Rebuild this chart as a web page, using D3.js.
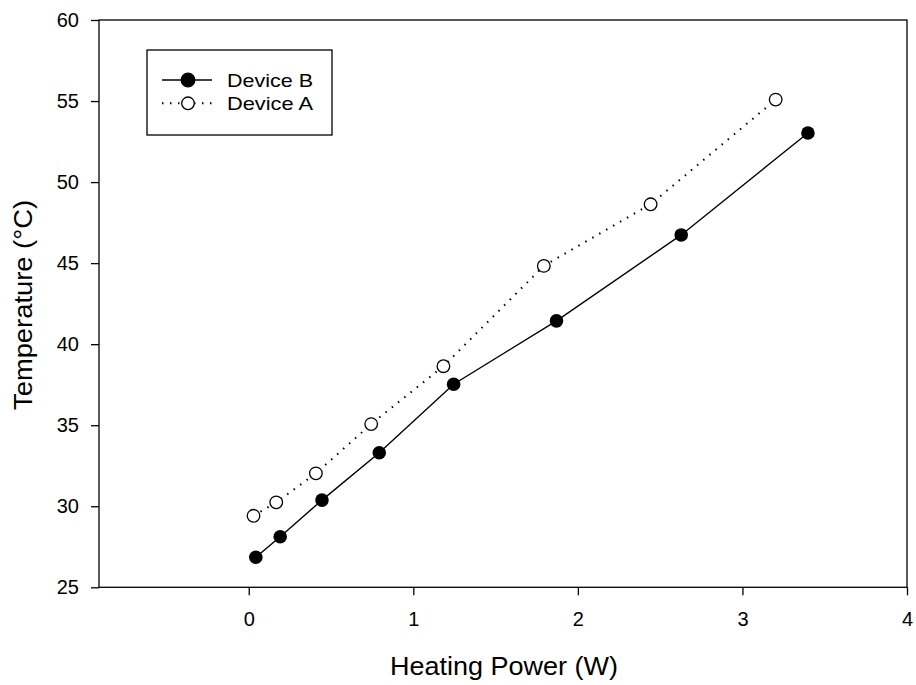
<!DOCTYPE html>
<html>
<head>
<meta charset="utf-8">
<script src="https://cdn.jsdelivr.net/npm/d3@7"></script>
<style>
  body { margin: 0; background: #fff; }
  text { font-family: "Liberation Sans", Arial, sans-serif; fill: #000; }
</style>
</head>
<body>
<svg id="chart"></svg>
<script>
// data
var powerB = [0.043, 0.191, 0.445, 0.793, 1.245, 1.870, 2.628, 3.398];
var tempB  = [26.85, 28.12, 30.38, 33.30, 37.53, 41.44, 46.74, 53.03];
var powerA = [0.029, 0.167, 0.408, 0.744, 1.183, 1.793, 2.442, 3.202];
var tempA  = [29.41, 30.24, 32.03, 35.07, 38.64, 44.83, 48.63, 55.09];
var seriesNames = ["Device B", "Device A"];
var xTicks = [0, 1, 2, 3, 4];
var yTicks = [25, 30, 35, 40, 45, 50, 55, 60];

var screen = { width: 916, height: 685 };
var margins = { top: 20, left: 99, right: 9, bottom: 98 };
var width = screen.width - margins.left - margins.right;
var height = screen.height - margins.top - margins.bottom + 0.3;

var svg = d3.select("#chart")
  .attr("width", screen.width)
  .attr("height", screen.height);

var xScale = d3.scaleLinear().domain([-0.91, 4]).range([0, width]);
var yScale = d3.scaleLinear().domain([25, 60]).range([height, 0]);

var plot = svg.append("g")
  .attr("transform", "translate(" + margins.left + "," + margins.top + ")");

// frame
plot.append("rect")
  .attr("width", width).attr("height", height)
  .attr("fill", "none").attr("stroke", "#000").attr("stroke-width", 1.3);

var xAxis = d3.axisBottom(xScale).tickValues(xTicks).tickSize(8).tickPadding(17).tickFormat(d3.format("d"));
var yAxis = d3.axisLeft(yScale).tickValues(yTicks).tickSize(8).tickPadding(12);

var gx = plot.append("g").attr("transform", "translate(0," + height + ")").call(xAxis);
var gy = plot.append("g").call(yAxis);
[gx, gy].forEach(function(g) {
  g.select(".domain").remove();
  g.selectAll("line").attr("stroke", "#000").attr("stroke-width", 1.3);
  g.selectAll("text").style("font-size", "20px").style("font-family", "Liberation Sans, Arial, sans-serif");
});

var dataB = powerB.map(function(p, i) { return { x: p, y: tempB[i] }; });
var dataA = powerA.map(function(p, i) { return { x: p, y: tempA[i] }; });

var line = d3.line()
  .x(function(d) { return xScale(d.x); })
  .y(function(d) { return yScale(d.y); });

plot.append("path").datum(dataA)
  .attr("d", line).attr("fill", "none").attr("stroke", "#000")
  .attr("stroke-width", 2).attr("stroke-dasharray", "1.5 6.5");

plot.append("path").datum(dataB)
  .attr("d", line).attr("fill", "none").attr("stroke", "#000").attr("stroke-width", 1.4);

plot.selectAll("circle.a").data(dataA).enter().append("circle")
  .attr("class", "a")
  .attr("cx", function(d) { return xScale(d.x); })
  .attr("cy", function(d) { return yScale(d.y); })
  .attr("r", 6.3).attr("fill", "#fff").attr("stroke", "#000").attr("stroke-width", 1.3);

plot.selectAll("circle.b").data(dataB).enter().append("circle")
  .attr("class", "b")
  .attr("cx", function(d) { return xScale(d.x); })
  .attr("cy", function(d) { return yScale(d.y); })
  .attr("r", 6.8).attr("fill", "#000");

// legend
var legend = svg.append("g").attr("transform", "translate(147,50)");
legend.append("rect").attr("width", 185).attr("height", 85)
  .attr("fill", "#fff").attr("stroke", "#000").attr("stroke-width", 1.3);

var rows = legend.selectAll("g.row").data(seriesNames).enter().append("g")
  .attr("class", "row")
  .attr("transform", function(d, i) { return "translate(0," + (30 + i * 23.3) + ")"; });

rows.append("line").attr("x1", 15).attr("x2", 65).attr("y1", 0).attr("y2", 0)
  .attr("stroke", "#000")
  .attr("stroke-width", function(d, i) { return i === 0 ? 1.4 : 2; })
  .attr("stroke-dasharray", function(d, i) { return i === 0 ? null : "1.5 6.5"; });
rows.append("circle").attr("cx", 41).attr("cy", 0)
  .attr("r", function(d, i) { return i === 0 ? 6.8 : 6.3; })
  .attr("fill", function(d, i) { return i === 0 ? "#000" : "#fff"; })
  .attr("stroke", "#000").attr("stroke-width", 1.3);
rows.append("text").attr("x", 80).attr("y", 6.7)
  .style("font-size", "19px")
  .attr("textLength", function(d, i) { return i === 0 ? 86 : 86; })
  .attr("lengthAdjust", "spacingAndGlyphs")
  .text(function(d) { return d; });

// axis titles
svg.append("text")
  .attr("x", 504).attr("y", 675)
  .attr("text-anchor", "middle").style("font-size", "25px")
  .attr("textLength", 228).attr("lengthAdjust", "spacingAndGlyphs")
  .text("Heating Power (W)");

svg.append("text")
  .attr("transform", "translate(32,305) rotate(-90)")
  .attr("text-anchor", "middle").style("font-size", "25px")
  .attr("textLength", 210).attr("lengthAdjust", "spacingAndGlyphs")
  .text("Temperature (°C)");
</script>
</body>
</html>
